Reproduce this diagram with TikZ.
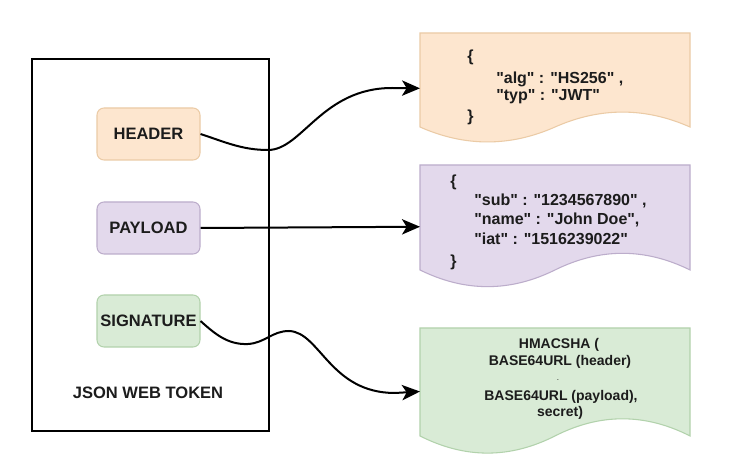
\documentclass[tikz,border=0pt]{standalone}
\usepackage{fontspec}
\newfontfamily\lib{Liberation Sans}
\usetikzlibrary{arrows.meta}
\newdimen\px \px=0.75pt
\definecolor{hfill}{HTML}{FDE6CF}
\definecolor{hdraw}{HTML}{EBCBA6}
\definecolor{pfill}{HTML}{E3D9EC}
\definecolor{pdraw}{HTML}{BCADCB}
\definecolor{sfill}{HTML}{D9EBD6}
\definecolor{sdraw}{HTML}{B2D2AC}
\definecolor{ink}{HTML}{1C1C1C}
\newcommand\docshape[6]{%
  \filldraw[fill=#5, draw=#6, line width=0.8pt]
  (#1,#2) -- ({#1+#3},#2) -- ({#1+#3},{#2+0.85*#4})
  .. controls ({#1+5*#3/6},{#2+0.67*#4}) and ({#1+2*#3/3},{#2+0.67*#4}) .. ({#1+#3/2},{#2+0.85*#4})
  .. controls ({#1+#3/3},{#2+1.03*#4}) and ({#1+#3/6},{#2+1.03*#4}) .. (#1,{#2+0.85*#4}) -- cycle;}
\begin{document}
\begin{tikzpicture}[x=0.75pt,y=-0.75pt,
  part/.style={draw, line width=0.8pt, rounded corners=7\px, minimum width=103\px, minimum height=52\px,
    inner sep=0pt, text=ink, font=\lib\fontsize{12.4}{15}\selectfont\bfseries},
  lbl/.style={text=ink, inner sep=0pt, font=\lib\fontsize{12.4}{15}\selectfont\bfseries},
  jtext/.style={text=ink, inner sep=0pt, anchor=west, font=\lib\fontsize{12}{14}\selectfont\bfseries},
  stext/.style={text=ink, inner sep=0pt, font=\lib\fontsize{10.5}{12}\selectfont\bfseries},
  docnode/.style={inner sep=0pt, outer sep=0pt, anchor=north west, minimum width=270\px},
  link/.style={line width=1.5pt, -{Stealth[length=13.5pt, width=11.5pt, inset=3.5pt]}}]
\useasboundingbox (0,0) rectangle (729,463);
\fill[white] (0,0) rectangle (729,463);

% outer token box
\node[draw, line width=1.5pt, anchor=north west, minimum width=237\px, minimum height=372\px, inner sep=0pt] (jwt) at (31,58) {};
\node[lbl] (jwtlabel) at (148,393) {JSON WEB TOKEN};

% parts
\node[part, fill=hfill, draw=hdraw] (header) at (148.5,134) {HEADER};
\node[part, fill=pfill, draw=pdraw] (payload) at (148.5,228) {PAYLOAD};
\node[part, fill=sfill, draw=sdraw] (signature) at (148.5,321) {SIGNATURE};

% documents
\docshape{420}{33}{270}{110.6}{hfill}{hdraw}
\node[docnode, minimum height=110.6\px] (hdoc) at (420,33) {};
\docshape{420}{165}{270}{123.5}{pfill}{pdraw}
\node[docnode, minimum height=123.5\px] (pdoc) at (420,165) {};
\docshape{420}{328}{270}{127}{sfill}{sdraw}
\node[docnode, minimum height=127\px] (sdoc) at (420,328) {};

% header text
\node[jtext] (h1) at (467,57) {\{};
\node[jtext] (h2) at (496,79) {"alg" : "HS256" ,};
\node[jtext] (h3) at (496,97) {"typ" : "JWT"};
\node[jtext] (h4) at (467,117) {\}};

% payload text
\node[jtext] (p1) at (450,182) {\{};
\node[jtext] (p2) at (474,201) {"sub" : "1234567890" ,};
\node[jtext] (p3) at (474,220) {"name" : "John Doe",};
\node[jtext] (p4) at (474,239) {"iat" : "1516239022"};
\node[jtext] (p5) at (450,262) {\}};

% signature text
\node[stext] (s1) at (559,345) {HMACSHA (};
\node[stext] (s2) at (560,362) {BASE64URL (header)};
\node[stext, font=\lib\fontsize{6}{7}\selectfont] (s3) at (558,380) {.};
\node[stext] (s4) at (561,397) {BASE64URL (payload),};
\node[stext] (s5) at (560,413) {secret)};

% connectors
\draw[link] (header.east) .. controls (225,142) and (242,150) .. (268,150)
  .. controls (302,150) and (322,88) .. (392,88) -- (hdoc.west);
\draw[link] (payload.east) -- (pdoc.west);
\draw[link] (signature.east) .. controls (215,334) and (228,345) .. (248,344)
  .. controls (265,343) and (272,331) .. (289,331)
  .. controls (320,332) and (330,393) .. (395,393) -- (sdoc.west);
\end{tikzpicture}
\end{document}
